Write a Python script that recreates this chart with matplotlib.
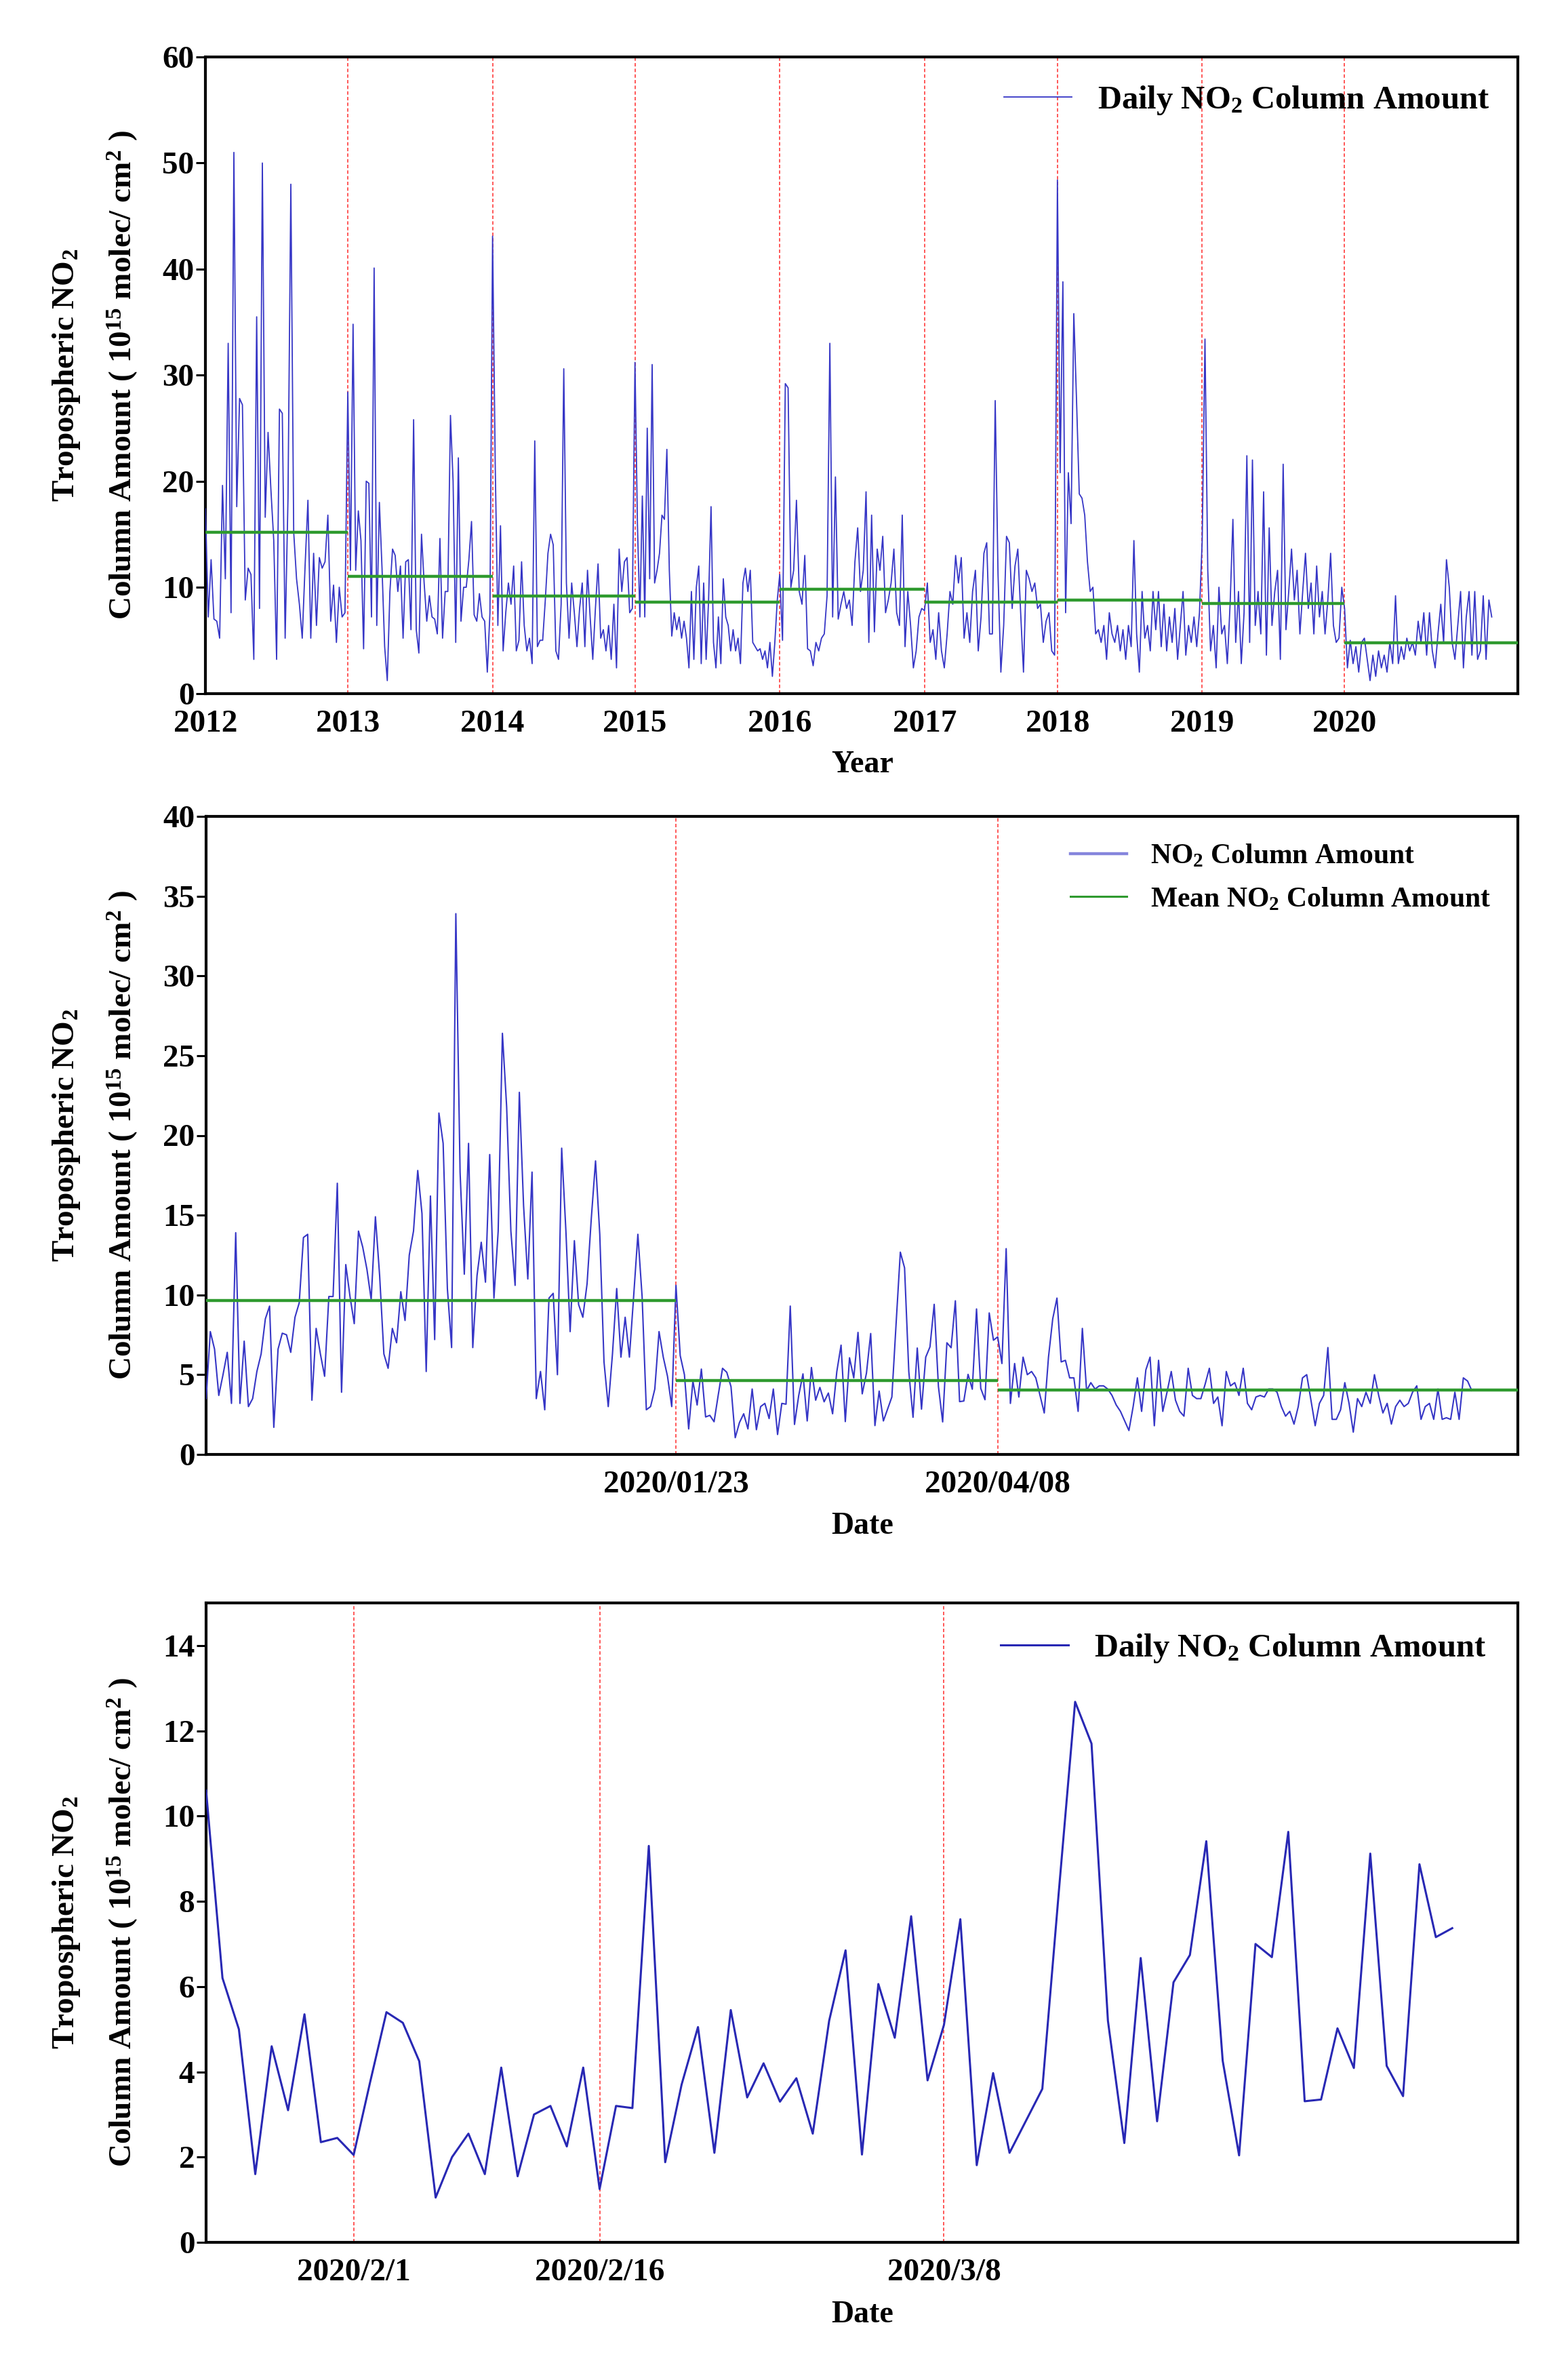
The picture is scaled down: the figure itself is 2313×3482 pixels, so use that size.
import numpy as np
import pandas as pd
import matplotlib
matplotlib.use('Agg')
import matplotlib.pyplot as plt
from matplotlib.lines import Line2D

plt.rcParams['font.family'] = ['Liberation Serif', 'DejaVu Serif']
plt.rcParams['font.weight'] = 'bold'
plt.rcParams['mathtext.fontset'] = 'custom'
plt.rcParams['mathtext.rm'] = 'Liberation Serif:bold'
plt.rcParams['mathtext.bf'] = 'Liberation Serif:bold'
plt.rcParams['mathtext.it'] = 'Liberation Serif:bold:italic'
plt.rcParams['mathtext.default'] = 'bf'

# ---------------- Panel 1 data: daily NO2 per year (10^15 molec/cm^2) ----------------
v2012 = [17.4, 7.2, 12.6, 7.0, 6.8, 5.2, 19.6, 10.8, 33.0, 7.6, 51.0, 17.6, 27.8, 27.2, 8.8, 11.8,
         11.2, 3.2, 35.5, 8.0, 50.0, 16.6, 24.6, 19.2, 14.4, 3.2, 26.8, 26.4, 5.2, 18.4, 48.0, 15.2,
         10.8, 8.4, 5.2, 12.0, 18.2, 5.2, 13.2, 6.4, 12.8, 11.8, 12.4, 16.8, 6.8, 10.2, 4.8, 10.0, 7.2, 7.6]
v2013 = [28.4, 11.6, 34.8, 11.6, 17.2, 14.4, 4.2, 20.0, 19.8, 7.2, 40.1, 6.4, 18.0, 11.8, 4.4, 1.2,
         9.6, 13.6, 13.0, 9.6, 12.0, 5.2, 12.4, 12.6, 6.0, 25.8, 6.0, 3.8, 15.0, 10.4, 6.8, 9.2, 7.2,
         7.0, 5.6, 14.6, 5.2, 9.6, 9.6, 26.2, 20.0, 4.8, 22.2, 6.8, 10.0, 10.0, 12.6, 16.2, 7.4, 6.8,
         9.4, 7.2, 6.8, 2.0, 7.6]
v2014 = [43.1, 21.6, 6.4, 15.8, 4.0, 7.6, 10.4, 8.4, 12.0, 4.0, 5.0, 12.4, 6.4, 4.0, 5.2, 2.8, 23.8,
         4.4, 5.0, 5.0, 8.8, 13.2, 15.0, 14.0, 4.0, 3.2, 8.4, 30.6, 10.4, 5.2, 10.4, 7.6, 4.4, 8.0, 10.4,
         4.4, 11.6, 7.2, 3.2, 8.0, 12.2, 5.2, 6.0, 4.0, 6.4, 3.2, 8.4, 2.4, 13.6, 9.6, 12.4, 12.8, 7.6, 8.0]
v2015 = [31.2, 16.0, 7.2, 18.6, 7.2, 25.0, 10.8, 31.0, 10.4, 11.6, 13.2, 16.8, 16.4, 23.0, 11.6, 5.4,
         7.6, 6.0, 7.2, 5.2, 6.8, 5.2, 2.4, 9.6, 3.2, 10.0, 12.0, 2.8, 10.4, 3.2, 8.8, 17.6, 4.8, 2.4,
         7.2, 2.8, 10.8, 7.2, 6.4, 4.0, 6.0, 4.0, 5.2, 2.8, 10.4, 11.8, 9.6, 11.6, 4.8, 4.4, 4.0, 4.2,
         3.2, 4.0, 2.4, 4.8, 1.6, 4.8, 8.8]
v2016 = [11.2, 5.0, 29.2, 28.8, 10.0, 11.6, 18.2, 9.6, 8.4, 13.0, 4.2, 4.0, 2.6, 4.8, 4.0, 5.2, 5.6,
         9.2, 33.0, 7.2, 20.4, 7.0, 8.4, 9.6, 8.0, 8.8, 6.4, 12.4, 15.6, 9.6, 11.6, 19.0, 4.8, 16.8, 5.8,
         13.6, 11.6, 14.8, 7.6, 8.8, 10.4, 13.6, 7.6, 6.4, 16.8, 4.4, 9.6, 6.4, 2.4, 4.0, 7.2, 8.0]
v2017 = [7.8, 10.4, 4.8, 6.0, 3.2, 7.6, 4.0, 2.4, 5.6, 9.6, 8.4, 13.0, 10.4, 12.8, 5.2, 7.6, 4.8, 9.6,
         11.6, 4.0, 7.2, 13.2, 14.2, 5.6, 5.6, 27.6, 11.2, 2.0, 6.4, 14.8, 14.2, 8.0, 12.0, 13.6, 7.6,
         2.0, 11.6, 10.8, 9.6, 10.4, 8.0, 8.4, 4.8, 6.8, 7.6, 4.0, 3.6]
v2018 = [48.4, 20.8, 38.8, 7.6, 20.8, 16.0, 35.8, 27.6, 18.8, 18.4, 16.8, 12.4, 9.6, 10.0, 5.6, 6.0,
         4.8, 6.4, 3.2, 7.6, 5.6, 4.8, 6.4, 4.0, 6.0, 3.2, 6.4, 4.4, 14.4, 5.6, 2.0, 9.6, 5.2, 6.4, 4.0,
         9.6, 6.0, 9.6, 4.4, 8.4, 4.0, 7.2, 4.8, 8.0, 3.2, 6.4, 9.6, 3.6, 6.4, 4.8, 7.2, 4.4, 7.6]
v2019 = [14.4, 33.4, 11.6, 4.0, 6.4, 2.4, 10.0, 5.6, 6.4, 2.8, 8.4, 16.4, 4.8, 9.6, 2.8, 7.6, 22.4,
         4.8, 22.0, 6.4, 9.6, 5.6, 19.0, 3.6, 15.6, 6.4, 9.6, 11.6, 3.2, 21.6, 6.0, 9.6, 13.6, 8.8, 11.6,
         5.6, 9.6, 13.2, 8.0, 10.4, 5.6, 12.0, 7.2, 9.6, 5.6, 8.8, 13.2, 6.4, 4.8, 5.2, 10.0]
v2020 = [8.0, 2.4, 5.0, 2.8, 4.4, 2.0, 4.8, 5.2, 3.2, 1.2, 3.6, 1.6, 4.0, 2.4, 3.6, 2.0, 4.8, 2.8, 9.2,
         2.8, 4.4, 3.2, 5.2, 4.0, 4.8, 3.6, 6.8, 4.8, 7.6, 3.6, 7.6, 4.0, 2.4, 5.6, 8.4, 4.8, 12.6, 10.0,
         4.8, 3.2, 6.4, 9.6, 2.4, 7.2, 9.6, 3.6, 9.6, 3.2, 4.0, 9.2, 3.2, 8.8, 7.2]
years = ['2012', '2013', '2014', '2015', '2016', '2017', '2018', '2019', '2020']
annual_mean = [15.2, 11.0, 9.2, 8.6, 9.8, 8.6, 8.8, 8.5, 4.75]
# position (observation sequence) of the first record of each year, end of data, axis end
year_pos = [0, 60, 121, 181, 242, 303, 359, 420, 480]
data_end = 542
axis_end = 553

# ---------------- Panel 2/3 data: daily series around the lockdown ----------------
autumn_vals = [3.5, 7.7, 6.6, 3.7, 5.0, 6.4, 3.2, 13.9, 3.2, 7.1, 3.0, 3.5, 5.2, 6.3, 8.5, 9.3, 1.7,
               6.6, 7.6, 7.5, 6.4, 8.6, 9.5, 13.6, 13.8, 3.4, 7.9, 6.3, 4.9, 9.9, 9.9, 17.0, 3.9, 11.9,
               9.9, 8.2, 14.0, 13.0, 11.6, 9.7, 14.9, 11.2, 6.3, 5.4, 7.9, 7.0, 10.2, 8.4, 12.5, 14.0,
               17.8, 15.1, 5.2, 16.2, 7.2, 21.4, 19.5, 10.4, 6.7, 33.9, 17.7, 11.3, 19.5, 6.7, 11.2, 13.3,
               10.8, 18.8, 9.8, 14.0, 26.4, 21.8, 14.0, 10.6, 22.7, 15.6, 11.0, 17.7, 3.5, 5.2, 2.8, 9.8,
               10.1, 5.0, 19.2, 14.0, 7.7, 13.4, 9.4, 8.6, 10.7, 14.8, 18.4, 13.8, 5.8, 3.0, 6.3, 10.4,
               6.1, 8.6, 6.1, 9.9, 13.8, 9.9, 2.8, 3.0, 4.1, 7.7, 6.1, 4.9, 3.0]
lockdown_vals = [10.6, 6.2, 5.0, 1.6, 4.6, 3.1, 5.35, 2.35, 2.45, 2.05,
                 3.75, 5.4, 5.15, 4.25, 1.05, 2.0, 2.55, 1.6, 4.1, 1.55, 3.0, 3.2, 2.25, 4.1, 1.25,
                 3.2, 3.15, 9.3, 1.88, 3.7, 5.05, 2.1, 5.45, 3.4, 4.2, 3.3, 3.85, 2.55, 5.2, 6.85,
                 2.06, 6.06, 4.8, 7.65, 3.8, 5.1, 7.58, 1.81, 3.97, 2.1, 2.85, 3.6, 8.2, 12.68, 11.7,
                 5.2, 2.33, 6.67, 2.84, 6.1, 6.74, 9.41, 4.26, 2.04, 7.0, 6.69, 9.63, 3.31, 3.35, 5.02,
                 4.09, 9.12, 4.14, 3.43, 8.87, 7.16, 7.37]
after_vals = [5.7, 12.9, 3.2, 5.7, 3.6, 6.1, 5.0, 5.2, 4.8, 3.7, 2.6, 6.1, 8.5, 9.8, 5.8, 5.9, 4.8, 4.8,
              2.7, 7.9, 4.0, 4.5, 4.1, 4.3, 4.3, 4.1, 3.7, 3.1, 2.7, 2.1, 1.5, 3.0, 4.8, 2.7, 5.3, 6.1,
              1.8, 5.9, 2.7, 3.9, 5.2, 3.4, 2.7, 2.4, 5.4, 3.7, 3.5, 3.5, 4.4, 5.4, 3.2, 3.6, 1.8, 5.2,
              4.3, 4.5, 3.7, 5.4, 3.2, 2.8, 3.6, 3.7, 3.6, 4.1, 4.1, 3.9, 3.0, 2.4, 2.7, 1.9, 3.0, 4.8,
              5.0, 3.4, 1.8, 3.2, 3.7, 6.7, 2.2, 2.2, 2.8, 4.5, 3.2, 1.4, 3.5, 3.0, 3.9, 3.2, 5.0, 3.7,
              2.6, 3.2, 1.9, 3.0, 3.4, 3.0, 3.2, 3.9, 4.3, 2.2, 3.0, 3.2, 2.2, 4.1, 2.2, 2.3, 2.2, 3.9,
              2.2, 4.8, 4.6, 4.0]
period_means = [9.65, 4.65, 4.02]
lockdown_start = '2020-01-23'
lockdown_end = '2020-04-08'
p2_ticks = ['2020-01-23', '2020-04-08']
p2_ticklabels = ['2020/01/23', '2020/04/08']
p2_xmax = '2020-08-08 19:00'
p3_ticks = ['2020-02-01', '2020-02-16', '2020-03-08']
p3_ticklabels = ['2020/2/1', '2020/2/16', '2020/3/8']
p3_xmax = '2020-04-12'

# ---------------- styling ----------------
W, H = 2313, 3482
fig = plt.figure(figsize=(W / 100, H / 100), dpi=100)
BLUE = '#3636c6'
GREEN = '#2f9a2f'
RED = '#ff3b3b'
FS = 34
ylab1 = 'Tropospheric NO$_{\\mathbf{2}}$'
ylab2 = 'Column Amount ( 10$^{\\mathbf{15}}$ molec/ cm$^{\\mathbf{2}}$ )'


def style(ax):
    for s in ax.spines.values():
        s.set_linewidth(3.0)
        s.set_color('black')
    ax.tick_params(axis='y', direction='out', length=10, width=2.2, labelsize=FS, pad=2)
    ax.tick_params(axis='x', length=0, labelsize=FS, pad=17.5)
    ax.tick_params(right=False, top=False)
    for t in ax.get_xticklabels() + ax.get_yticklabels():
        t.set_fontweight('bold')


def ylabels(ax_top_px, ax_bot_px):
    yc = 1 - (ax_top_px + ax_bot_px) / 2 / H
    fig.text(98 / W, yc, ylab1, rotation=90, ha='center', va='center', fontsize=FS, fontweight='bold')
    fig.text(181 / W, yc, ylab2, rotation=90, ha='center', va='center', fontsize=FS, fontweight='bold')


# ---------------- Panel 1 ----------------
ax1 = fig.add_axes([303 / W, 1 - 1022.5 / H, (2239 - 303) / W, (1022.5 - 84) / H])
xs, ys = [], []
yearly = [v2012, v2013, v2014, v2015, v2016, v2017, v2018, v2019, v2020]
for k, vals in enumerate(yearly):
    start = year_pos[k]
    if k < len(year_pos) - 1:
        end = year_pos[k + 1]
        xk = start + (end - start) * np.arange(len(vals)) / len(vals)
    else:
        xk = np.linspace(start, data_end, len(vals))
    xs.extend(xk)
    ys.extend(vals)
ax1.plot(xs, ys, color=BLUE, lw=1.3, label='Daily NO$_{\\mathbf{2}}$ Column Amount', zorder=3)
seg_ends = year_pos[1:] + [axis_end]
ax1.hlines(annual_mean, year_pos, seg_ends, colors=GREEN, lw=3.2, zorder=4)
for p in year_pos[1:]:
    ax1.axvline(p, color=RED, lw=1.2, ls=(0, (3, 2)), zorder=2)
ax1.set_xlim(0, axis_end)
ax1.set_ylim(0, 60)
ax1.set_yticks(np.arange(0, 61, 10))
ax1.set_xticks(year_pos)
ax1.set_xticklabels(years)
style(ax1)
ax1.legend(loc='upper right', bbox_to_anchor=(0.9783, 0.957), borderaxespad=0, borderpad=0,
           frameon=False, handlelength=2.06, handletextpad=0.78,
           prop={'family': 'Liberation Serif', 'weight': 'bold', 'size': 35})
ylabels(84, 1022.5)
fig.text(1272 / W, 1 - 1128 / H, 'Year', ha='center', va='center', fontsize=33, fontweight='bold')

# ---------------- Panel 2 ----------------
ax2 = fig.add_axes([304 / W, 1 - 2145 / H, (2238.5 - 304) / W, (2145 - 1204) / H])
d_mid = pd.date_range(lockdown_start, periods=len(lockdown_vals), freq='D')
d_pre = pd.date_range(end=pd.Timestamp(lockdown_start) - pd.Timedelta(days=1), periods=len(autumn_vals), freq='D')
d_post = pd.date_range(pd.Timestamp(lockdown_end) + pd.Timedelta(days=1), periods=len(after_vals), freq='D')
d_all = d_pre.append(d_mid).append(d_post)
v_all = autumn_vals + lockdown_vals + after_vals
ax2.plot(d_all, v_all, color=BLUE, lw=1.5, zorder=3)
xmax2 = pd.Timestamp(p2_xmax)
bounds = [d_pre[0], pd.Timestamp(lockdown_start), pd.Timestamp(lockdown_end), xmax2]
for i, m in enumerate(period_means):
    ax2.hlines(m, bounds[i], bounds[i + 1], colors=GREEN, lw=3.2, zorder=4)
for t in p2_ticks:
    ax2.axvline(pd.Timestamp(t), color=RED, lw=1.2, ls=(0, (3, 2)), zorder=2)
ax2.set_xlim(d_pre[0], xmax2)
ax2.set_ylim(0, 40)
ax2.set_yticks(np.arange(0, 41, 5))
ax2.set_xticks(pd.to_datetime(p2_ticks))
ax2.set_xticklabels(p2_ticklabels)
style(ax2)
h2 = [Line2D([], [], color='#8585dd', lw=3.2), Line2D([], [], color=GREEN, lw=2.2)]
ax2.legend(h2, ['NO$_{\\mathbf{2}}$ Column Amount', 'Mean NO$_{\\mathbf{2}}$ Column Amount'],
           loc='upper right', bbox_to_anchor=(0.9798, 0.958), borderaxespad=0, borderpad=0,
           frameon=False, handlelength=2.0, handletextpad=0.84, labelspacing=0.6,
           prop={'family': 'Liberation Serif', 'weight': 'bold', 'size': 30})
ylabels(1204, 2145)
fig.text(1272 / W, 1 - 2251 / H, 'Date', ha='center', va='center', fontsize=33, fontweight='bold')

# ---------------- Panel 3 ----------------
ax3 = fig.add_axes([304 / W, 1 - 3307 / H, (2239 - 304) / W, (3307 - 2364) / H])
ax3.plot(d_mid, lockdown_vals, color='#2828b4', lw=2.2, label='Daily NO$_{\\mathbf{2}}$ Column Amount', zorder=3)
for t in p3_ticks:
    ax3.axvline(pd.Timestamp(t), color=RED, lw=1.2, ls=(0, (3, 2)), zorder=2)
ax3.set_xlim(pd.Timestamp(lockdown_start), pd.Timestamp(p3_xmax))
ax3.set_ylim(0, 15)
ax3.set_yticks(np.arange(0, 15, 2))
ax3.set_xticks(pd.to_datetime(p3_ticks))
ax3.set_xticklabels(p3_ticklabels)
style(ax3)
ax3.legend(loc='upper right', bbox_to_anchor=(0.976, 0.954), borderaxespad=0, borderpad=0,
           frameon=False, handlelength=2.04, handletextpad=0.8,
           prop={'family': 'Liberation Serif', 'weight': 'bold', 'size': 35})
ylabels(2364, 3307)
fig.text(1272 / W, 1 - 3414 / H, 'Date', ha='center', va='center', fontsize=33, fontweight='bold')

fig.savefig('out.png', dpi=100, facecolor='white')
